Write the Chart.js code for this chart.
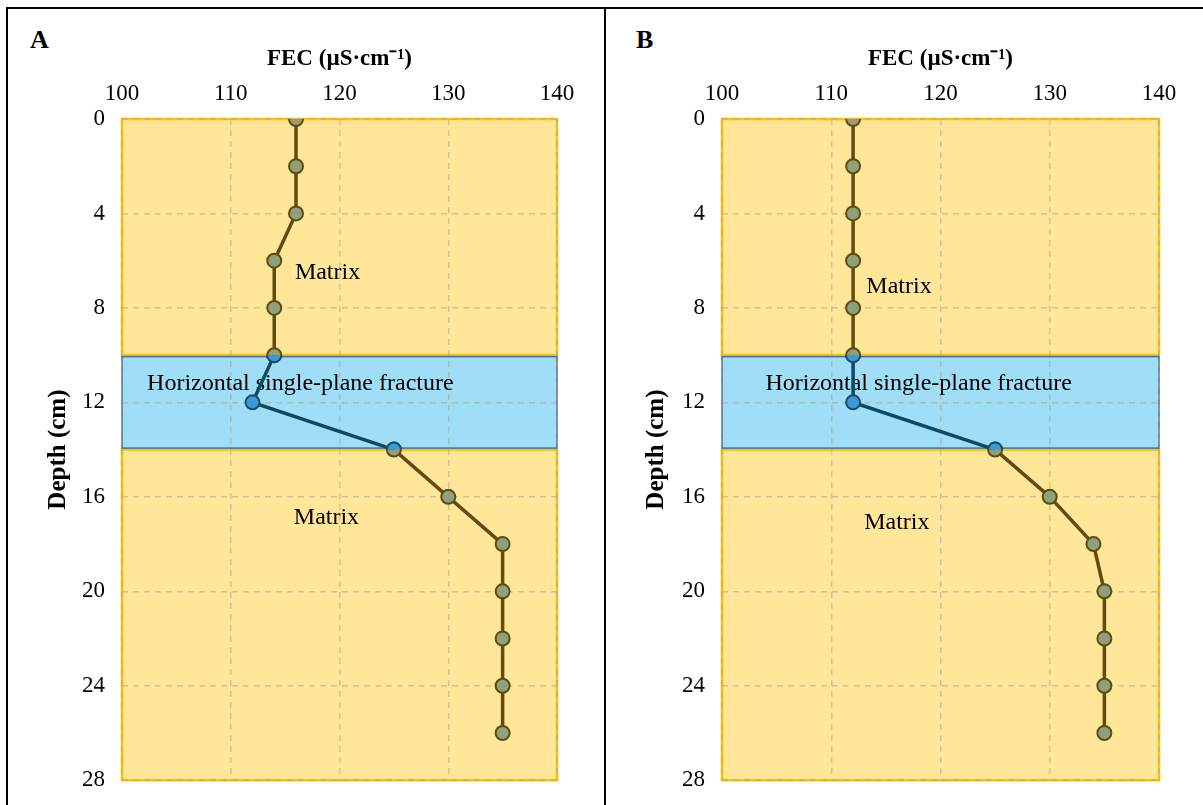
<!DOCTYPE html>
<html>
<head>
<meta charset="utf-8">
<script src="https://cdn.jsdelivr.net/npm/chart.js@4.4.0/dist/chart.umd.min.js"></script>
<style>
body { margin: 0; background: #fff; width: 1203px; height: 805px; overflow: hidden; position: relative; font-family: "Liberation Serif", "Times New Roman", serif; }
.rule { position: absolute; background: #000; }
.panel { position: absolute; top: 9px; }
.tag { position: absolute; top: 25px; font-weight: bold; font-size: 26px; }
</style>
</head>
<body>
<div class="rule" style="left:6px;top:7px;width:1197px;height:2px"></div>
<div class="rule" style="left:6px;top:7px;width:2px;height:798px"></div>
<div class="rule" style="left:604px;top:7px;width:2px;height:798px"></div>
<div class="tag" style="left:30px">A</div>
<div class="tag" style="left:636px">B</div>
<canvas class="panel" id="chartA" width="596" height="802" style="left:8px"></canvas>
<canvas class="panel" id="chartB" width="597" height="802" style="left:606px"></canvas>
<script>
const depths = [0, 2, 4, 6, 8, 10, 12, 14, 16, 18, 20, 22, 24, 26];
const fecA = [116, 116, 116, 114, 114, 114, 112, 125, 130, 135, 135, 135, 135, 135];
const fecB = [112, 112, 112, 112, 112, 112, 112, 125, 130, 134, 135, 135, 135, 135];
const fecTicks = [100, 110, 120, 130, 140];
const depthTicks = [0, 4, 8, 12, 16, 20, 24, 28];
const fractureTop = 10;
const fractureBottom = 14;
const depthMax = 28;

// label text and where it sits, in data units (FEC, depth)
const notesA = [
    { text: 'Matrix', fec: 118.9, depth: 6.5 },
    { text: 'Horizontal single-plane fracture', fec: 116.4, depth: 11.2 },
    { text: 'Matrix', fec: 118.8, depth: 16.9 }
];
const notesB = [
    { text: 'Matrix', fec: 116.2, depth: 7.1 },
    { text: 'Horizontal single-plane fracture', fec: 118.0, depth: 11.2 },
    { text: 'Matrix', fec: 116.0, depth: 17.1 }
];

const serif = '"Liberation Serif", "Times New Roman", serif';

const bandsPlugin = {
    id: 'bands',
    beforeDraw(chart) {
        const {ctx, scales: {x, y}} = chart;
        const left = x.getPixelForValue(x.min), right = x.getPixelForValue(x.max);
        ctx.save();
        // matrix layers
        [[0, fractureTop], [fractureBottom, depthMax]].forEach(([a, b]) => {
            const t = y.getPixelForValue(a), btm = y.getPixelForValue(b);
            ctx.fillStyle = '#ffe699';
            ctx.fillRect(left, t, right - left, btm - t);
            ctx.strokeStyle = '#ffc000';
            ctx.lineWidth = 2.5;
            ctx.strokeRect(left, t, right - left, btm - t);
        });
        // fracture layer
        const ft = y.getPixelForValue(fractureTop) + 1.5, fb = y.getPixelForValue(fractureBottom) - 1.5;
        ctx.fillStyle = '#a0def7';
        ctx.fillRect(left, ft, right - left, fb - ft);
        ctx.strokeStyle = '#41719c';
        ctx.lineWidth = 1.5;
        ctx.strokeRect(left, ft, right - left, fb - ft);
        ctx.restore();
    }
};

// fracture series only shows inside the fracture layer
const clipPlugin = {
    id: 'fractureClip',
    beforeDatasetDraw(chart, args) {
        if (args.index !== 0) return;
        const {ctx, scales: {y}} = chart;
        const t = y.getPixelForValue(fractureTop), b = y.getPixelForValue(fractureBottom);
        ctx.save();
        ctx.beginPath();
        ctx.rect(0, t, chart.width, b - t);
        ctx.clip();
    },
    afterDatasetDraw(chart, args) {
        if (args.index !== 0) return;
        chart.ctx.restore();
    }
};

function notesPlugin(notes) {
    return {
        id: 'notes',
        beforeDatasetsDraw(chart) {
            const {ctx, scales: {x, y}} = chart;
            ctx.save();
            ctx.fillStyle = '#000';
            ctx.font = '24px ' + serif;
            ctx.textAlign = 'center';
            ctx.textBaseline = 'middle';
            notes.forEach(n => ctx.fillText(n.text, x.getPixelForValue(n.fec), y.getPixelForValue(n.depth)));
            ctx.restore();
        }
    };
}

function makeChart(id, fec, notes, axisWidth, rightPad) {
    const matrix = depths.map((d, i) => ({ x: (d > fractureTop && d < fractureBottom) ? null : fec[i], y: d }));
    const fracture = depths.map((d, i) => ({ x: fec[i], y: d }))
        .filter(p => p.y >= fractureTop && p.y <= fractureBottom);
    const grid = { color: 'rgba(170,160,140,0.5)', lineWidth: 1.5, drawTicks: false };
    return new Chart(document.getElementById(id), {
        type: 'line',
        data: {
            datasets: [
                {
                    label: 'Fracture',
                    data: fracture,
                    borderColor: '#0e4861',
                    borderWidth: 3.5,
                    pointRadius: 7,
                    pointBorderWidth: 2,
                    pointBackgroundColor: '#3a9ad6',
                    pointBorderColor: '#1c4a66'
                },
                {
                    label: 'Matrix',
                    data: matrix,
                    spanGaps: false,
                    borderColor: '#614c0e',
                    borderWidth: 3.5,
                    pointRadius: 7,
                    pointBorderWidth: 2,
                    pointBackgroundColor: '#8ea07c',
                    pointBorderColor: '#614c0e'
                }
            ]
        },
        options: {
            responsive: false,
            animation: false,
            layout: { padding: { left: 0, top: 0, right: rightPad, bottom: 20 } },
            plugins: { legend: { display: false }, tooltip: { enabled: false } },
            scales: {
                x: {
                    type: 'linear',
                    position: 'top',
                    min: 100,
                    max: 140,
                    afterBuildTicks: s => { s.ticks = fecTicks.map(v => ({ value: v })); },
                    afterFit: s => { s.height = 110; },
                    grid: grid,
                    border: { display: false, dash: [6, 5] },
                    ticks: { color: '#000', padding: 11, font: { family: serif, size: 23 } },
                    title: {
                        display: true,
                        text: 'FEC (µS·cm⁻¹)',
                        color: '#000',
                        padding: { top: 36 },
                        font: { family: serif, size: 23, weight: 'bold' }
                    }
                },
                y: {
                    type: 'linear',
                    reverse: true,
                    min: 0,
                    max: depthMax,
                    afterBuildTicks: s => { s.ticks = depthTicks.map(v => ({ value: v })); },
                    afterFit: s => { s.width = axisWidth; },
                    grid: grid,
                    border: { display: false, dash: [6, 5] },
                    ticks: { color: '#000', padding: 17, font: { family: serif, size: 23 } },
                    title: {
                        display: true,
                        text: 'Depth (cm)',
                        color: '#000',
                        padding: { top: 36 },
                        font: { family: serif, size: 25, weight: 'bold' }
                    }
                }
            }
        },
        plugins: [bandsPlugin, clipPlugin, notesPlugin(notes)]
    });
}

makeChart('chartA', fecA, notesA, 114, 47);
makeChart('chartB', fecB, notesB, 116, 44);
</script>
</body>
</html>
